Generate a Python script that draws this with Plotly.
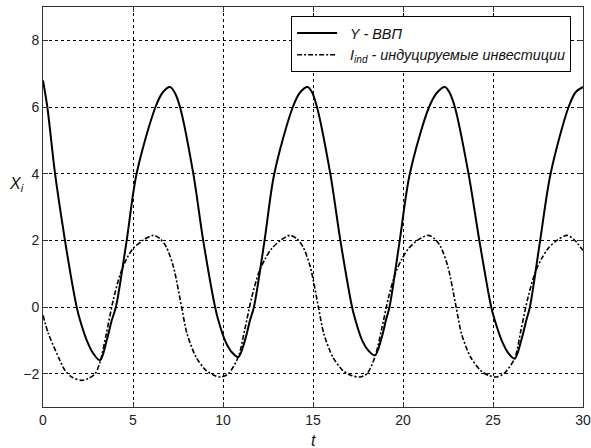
import plotly.graph_objects as go

# ---- data ----
t_Y = [0, 0.24, 0.67, 1.22, 1.59, 1.87, 2.06, 2.43, 2.8, 3.17,
       3.54, 3.82, 4.05, 4.65, 5.2, 6.25, 6.67, 7.06, 7.3, 7.61, 8.35, 8.9, 9.56, 9.74, 10.11, 10.48, 10.85,
       11.22, 11.5, 11.72, 12.31, 12.85, 13.88, 14.3, 14.7, 14.94, 15.22, 15.96, 16.52, 17.17, 17.36, 17.73, 18.1, 18.44,
       18.8, 19.05, 19.25, 19.82, 20.38, 21.45, 21.92, 22.33, 22.57, 22.88, 23.64, 24.24, 24.9, 25.1, 25.48, 25.85, 26.2,
       26.57, 26.85, 27.05, 27.62, 28.2, 29.2, 29.6, 30.0]
Y_gdp = [6.8, 6.0, 4.0, 2.0, 0.8, 0.0, -0.4, -1.0, -1.4, -1.6,
         -1.0, -0.4, 0.0, 2.0, 4.0, 6.0, 6.45, 6.6, 6.45, 6.0, 4.0, 2.0, 0.0, -0.4, -1.0, -1.35, -1.5,
         -1.0, -0.4, 0.0, 2.0, 4.0, 6.0, 6.45, 6.6, 6.45, 6.0, 4.0, 2.0, 0.0, -0.4, -1.0, -1.32, -1.45,
         -0.95, -0.4, 0.0, 2.0, 4.0, 6.0, 6.45, 6.6, 6.45, 6.0, 4.0, 2.0, 0.0, -0.4, -1.0, -1.38, -1.55,
         -1.0, -0.4, 0.0, 2.0, 4.0, 6.0, 6.45, 6.6]

t_I = [0, 0.3, 0.94, 1.22, 1.6, 2.13, 2.5, 2.9, 3.17,
       3.5, 3.9, 4.3, 4.65, 5.0, 5.55, 6.13, 6.5, 6.85, 7.25, 7.7, 8.0, 8.5, 9.05, 9.5, 9.9, 10.3, 10.85,
       11.2, 11.6, 12.0, 12.35, 12.7, 13.2, 13.72, 14.1, 14.45, 14.85, 15.3, 15.6, 16.1, 16.65, 17.1, 17.6, 18.0, 18.44,
       18.8, 19.2, 19.6, 19.95, 20.3, 20.8, 21.4, 21.75, 22.1, 22.5, 22.95, 23.25, 23.75, 24.3, 24.75, 25.2, 25.6, 26.2,
       26.55, 26.95, 27.35, 27.7, 28.05, 28.55, 29.1, 29.45, 30.0]
I_ind = [-0.25, -0.8, -1.6, -1.9, -2.1, -2.2, -2.15, -2.0, -1.65,
         -0.85, 0.2, 1.0, 1.45, 1.75, 2.0, 2.15, 2.05, 1.8, 1.2, 0.0, -0.8, -1.5, -1.9, -2.05, -2.1, -2.0, -1.5,
         -0.7, 0.3, 1.05, 1.45, 1.75, 2.0, 2.15, 2.05, 1.8, 1.2, 0.0, -0.8, -1.5, -1.9, -2.05, -2.1, -2.0, -1.5,
         -0.7, 0.3, 1.05, 1.45, 1.75, 2.0, 2.15, 2.05, 1.8, 1.2, 0.0, -0.8, -1.5, -1.9, -2.05, -2.1, -2.0, -1.55,
         -0.7, 0.3, 1.05, 1.45, 1.75, 2.0, 2.15, 2.05, 1.7]

x_ticks = [0, 5, 10, 15, 20, 25, 30]
y_ticks = [-2, 0, 2, 4, 6, 8]

name_Y = "&nbsp;&nbsp;<i>Y - ВВП</i>"
name_I = "&nbsp;&nbsp;<i>I<sub>ind</sub> - индуцируемые инвестиции</i>"

FONT = "Liberation Sans, Arial, sans-serif"

fig = go.Figure()
fig.add_trace(go.Scatter(x=t_Y, y=Y_gdp, mode="lines", name=name_Y,
                         line=dict(color="black", width=2, shape="spline", smoothing=0.9)))
fig.add_trace(go.Scatter(x=t_I, y=I_ind, mode="lines", name=name_I,
                         line=dict(color="black", width=1.6, shape="spline", smoothing=0.8,
                                   dash="5px,2px,2px,2px")))

axis_common = dict(
    showline=True, linecolor="#333333", linewidth=1, mirror="ticks",
    ticks="inside", ticklen=5, tickcolor="#333333",
    showgrid=True, gridcolor="#000000", gridwidth=1, griddash="3px,3px",
    zeroline=False, automargin=False,
    tickfont=dict(family=FONT, size=14, color="#222222"),
)

fig.update_layout(
    width=591, height=448,
    margin=dict(l=43, r=8, t=7, b=41),
    paper_bgcolor="white", plot_bgcolor="white",
    showlegend=True,
    legend=dict(x=0.978, y=0.977, xanchor="right", yanchor="top",
                bgcolor="white", bordercolor="black", borderwidth=1,
                font=dict(family=FONT, size=14.4, color="#111111"),
                tracegroupgap=2, itemwidth=40),
    xaxis=dict(range=[0, 30], tickvals=x_ticks, **axis_common),
    yaxis=dict(range=[-3, 9], tickvals=y_ticks, **axis_common),
    annotations=[
        dict(text="<i>X<sub>i</sub></i>", xref="paper", yref="paper",
             x=-0.05, y=0.555, xanchor="center", yanchor="middle", showarrow=False,
             font=dict(family=FONT, size=16, color="#111111")),
        dict(text="<i>t</i>", xref="paper", yref="paper",
             x=0.5, y=-0.083, xanchor="center", yanchor="middle", showarrow=False,
             font=dict(family=FONT, size=16, color="#111111")),
    ],
)

fig.write_html("out.html", config={"displayModeBar": False},
               post_script="document.body.style.margin='0';document.body.style.overflow='hidden';")
